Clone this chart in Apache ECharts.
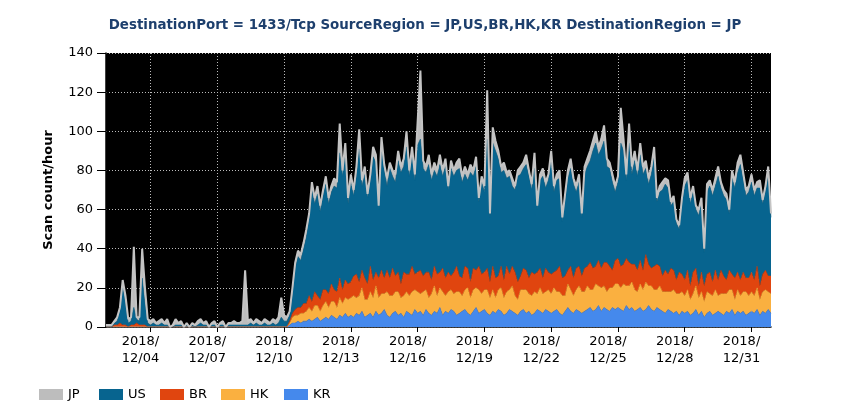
<!DOCTYPE html>
<html>
<head>
<meta charset="utf-8">
<script src="https://cdn.jsdelivr.net/npm/echarts@6/dist/echarts.min.js"></script>
<style>
html,body{margin:0;padding:0;background:#fff;}
#chart{width:850px;height:420px;}
</style>
</head>
<body>
<div id="chart"></div>
<script>
// 3-hour buckets from 2018/12/02 00:00 to 2018/12/31 21:00 (240 points)
const startDay = 2, endDay = 31, stepHours = 3;
const tickDays = ['12/04','12/07','12/10','12/13','12/16','12/19','12/22','12/25','12/28','12/31'];
const seriesNames = ['JP','US','BR','HK','KR'];

const kr = [
0,0,0,0,0,0,0,0,0,0,0,0,0,0,0,0,
0,0,0,0,0,0,0,0,0,0,0,0,0,0,0,0,
0,0,0,0,0,0,0,0,0,0,0,0,0,0,0,0,
0,0,0,0,0,0,0,0,0,0,0,0,0,0,0,0,0,0,
1,2,2,3,2,3,3,4,3,4,5,3,4,5,4,6,5,4,6,5,7,5,
6,5,7,6,8,5,6,7,5,8,6,7,9,6,5,7,8,6,7,5,8,7,6,9,
7,8,6,9,7,6,8,7,10,6,8,7,9,8,6,7,8,9,7,6,8,10,7,8,
9,7,6,8,7,9,8,6,7,9,8,7,6,8,9,7,8,6,7,9,8,7,9,8,
7,8,9,7,6,8,10,8,7,9,8,7,8,9,10,8,9,11,8,10,9,8,10,9,
10,9,8,11,9,10,8,9,10,8,9,11,9,8,10,9,8,7,9,8,7,8,6,8,
7,8,6,7,9,6,8,5,7,8,6,7,8,7,6,8,7,9,6,8,7,8,6,7,
8,7,9,6,8,7,9,7];

const hk = [
0,0,0,0,0,0,0,0,0,0,0,0,0,0,0,0,
0,0,0,0,0,0,0,0,0,0,0,0,0,0,0,0,
0,0,0,0,0,0,0,0,0,0,0,0,0,0,0,0,
0,0,0,0,0,0,0,0,0,0,0,0,0,0,0,0,0,0,
1,3,4,3,5,4,5,6,5,7,6,5,7,8,6,7,8,6,9,7,8,9,
9,11,8,10,12,9,8,11,10,13,9,10,8,12,11,9,10,12,8,11,10,9,12,10,
11,9,12,10,8,11,13,9,10,12,8,11,10,9,12,11,8,10,13,9,11,10,12,9,
10,12,9,11,8,10,12,9,11,10,13,9,8,11,10,12,9,10,11,8,12,10,9,11,
10,12,9,11,10,8,12,11,9,10,13,11,10,12,9,11,13,10,12,11,9,12,10,13,
12,11,14,10,12,13,11,9,12,11,14,10,12,11,9,12,10,11,9,10,12,9,11,10,
9,11,8,10,12,9,10,8,11,9,10,12,8,10,11,9,12,10,8,11,9,10,12,9,
10,9,11,8,10,12,9,10];

const br = [
0,0,0,1,1,2,1,1,0,1,1,2,1,1,1,0,
0,0,0,0,0,0,0,0,0,0,0,0,0,0,0,0,
0,0,0,0,0,0,0,0,0,0,0,0,0,0,0,0,
0,0,0,0,0,0,0,0,0,0,0,0,0,0,0,0,0,0,
1,2,3,4,3,5,4,6,5,7,5,6,8,6,7,9,6,8,10,7,9,8,
8,10,12,7,9,11,8,13,9,7,10,12,8,11,9,14,8,10,7,12,9,11,13,8,
10,12,8,9,13,7,10,11,8,12,9,10,7,11,13,8,9,12,10,8,11,9,12,10,
9,11,8,12,10,7,11,9,13,8,10,12,9,7,11,10,8,12,9,11,10,8,12,9,
10,8,11,13,9,10,7,12,9,11,10,8,12,10,14,11,9,13,10,12,15,11,9,12,
13,11,10,14,12,9,13,11,12,10,14,11,9,12,13,10,8,11,9,12,10,7,11,9,
8,10,7,11,9,6,10,8,9,11,7,10,8,12,9,7,10,8,11,9,8,10,7,9,
10,8,11,7,9,10,8,9];

const us = [
0,0,0,1,2,6,19,11,2,2,9,2,2,24,11,2,
1,2,1,1,2,1,1,0,0,1,1,1,0,1,0,1,
0,1,2,1,1,0,1,1,0,1,1,0,1,1,1,1,
1,1,1,1,2,1,2,1,1,2,1,1,2,1,2,5,3,3,
3,10,21,26,24,28,34,39,57,45,52,45,48,54,46,47,53,53,64,58,65,41,
51,41,50,68,43,53,44,44,63,56,35,62,55,43,56,47,48,57,57,54,65,50,56,48,
65,67,55,51,55,51,49,50,55,47,57,42,55,49,49,55,49,47,45,56,47,53,33,47,
41,66,33,63,65,60,48,56,45,50,41,42,54,52,51,54,52,42,57,32,45,52,41,47,
58,41,46,45,29,39,47,50,48,39,43,30,48,51,52,60,63,54,61,62,49,50,45,35,
39,63,58,40,61,46,53,48,54,49,44,41,48,56,32,38,44,44,44,32,35,29,22,36,
48,46,42,41,30,36,35,17,42,44,44,43,53,42,41,41,29,49,46,51,59,47,42,44,
46,43,40,50,36,40,51,30];

const jp = [
1,1,1,1,2,2,4,4,2,2,31,1,2,15,8,2,
2,2,1,2,2,1,3,0,1,3,1,2,0,1,0,1,
1,2,2,1,2,0,1,2,0,1,2,0,1,1,2,1,
1,2,28,2,2,1,2,2,1,2,2,1,2,2,3,10,3,2,
2,3,3,3,3,3,4,3,4,3,4,3,3,4,3,3,4,3,15,3,5,3,
4,3,5,10,3,4,2,3,5,4,2,6,3,4,3,3,4,5,3,4,8,3,5,3,
12,35,4,3,5,3,4,3,5,3,4,2,4,3,4,5,3,4,3,4,3,5,2,3,
3,25,2,8,5,4,3,4,3,3,4,2,3,4,3,5,3,3,5,2,3,4,3,3,
5,3,3,4,2,3,4,5,3,3,4,2,4,4,5,5,6,4,5,8,4,3,4,3,
3,18,6,3,10,4,5,3,6,4,4,3,4,5,2,3,4,3,4,2,3,2,2,3,
4,4,3,3,2,3,3,2,4,3,3,4,5,3,3,3,2,4,3,5,5,4,3,3,
4,3,3,4,2,3,5,2];

const categories = [];
for (let d = startDay; d <= endDay; d++) {
  for (let h = 0; h < 24; h += stepHours) {
    categories.push('2018/12/' + String(d).padStart(2,'0') + ' ' + String(h).padStart(2,'0') + ':00');
  }
}
const isTick = (idx) => {
  const c = categories[idx];
  return c.slice(11,13) === '00' && tickDays.indexOf(c.slice(5,10)) >= 0;
};

const colors = {JP:'#bdbdbd', US:'#07648f', BR:'#e0450f', HK:'#fab040', KR:'#4589ec'};
const dataMap = {JP:jp, US:us, BR:br, HK:hk, KR:kr};
const stackOrder = ['KR','HK','BR','US','JP'];
const legendLefts = [34, 94, 155, 216, 279];

const series = stackOrder.map(n => ({
  name: n,
  type: 'line',
  stack: 'total',
  data: dataMap[n],
  symbol: 'none',
  showSymbol: false,
  lineStyle: n === 'JP' ? {width: 2, color: '#c4c4c4'} : {width: 0.6, color: colors[n]},
  areaStyle: {color: colors[n], opacity: 1},
  itemStyle: {color: colors[n]},
  z: 2
}));

const legends = seriesNames.map((n, k) => ({
  data: [n],
  left: legendLefts[k],
  top: 383,
  icon: 'rect',
  itemWidth: 24,
  itemHeight: 11,
  textStyle: {fontFamily: 'DejaVu Sans', fontSize: 13, color: '#000'}
}));

const chart = echarts.init(document.getElementById('chart'), null, {renderer: 'canvas'});
chart.setOption({
  animation: false,
  backgroundColor: '#ffffff',
  title: {
    text: 'DestinationPort = 1433/Tcp SourceRegion = JP,US,BR,HK,KR DestinationRegion = JP',
    left: 'center',
    top: 14,
    textStyle: {fontFamily: 'DejaVu Sans', fontSize: 13.4, fontWeight: 'bold', color: '#1d3f6d'}
  },
  legend: legends,
  grid: {
    left: 106, right: 79, top: 53, bottom: 93,
    show: true, backgroundColor: '#000000', borderWidth: 0
  },
  xAxis: {
    type: 'category',
    data: categories,
    boundaryGap: false,
    axisLine: {show: true, lineStyle: {color: '#000', width: 1.5}},
    axisTick: {show: true, interval: (i) => isTick(i), length: 5, lineStyle: {color: '#000'}},
    axisLabel: {
      interval: (i) => isTick(i),
      formatter: (v) => v.slice(0,5) + '\n' + v.slice(5,10),
      fontFamily: 'DejaVu Sans', fontSize: 13, color: '#000', lineHeight: 17,
      margin: 6, padding: [0, 20, 0, 0]
    },
    splitLine: {show: true, interval: (i) => isTick(i), lineStyle: {color: '#bcbcbc', type: [1, 2], width: 1}}
  },
  yAxis: {
    type: 'value',
    min: 0, max: 140, interval: 20,
    name: 'Scan count/hour',
    nameLocation: 'middle',
    nameGap: 51,
    nameTextStyle: {fontFamily: 'DejaVu Sans', fontSize: 13, fontWeight: 'bold', color: '#000'},
    axisLine: {show: true, lineStyle: {color: '#000', width: 1.5}},
    axisTick: {show: true, length: 9, lineStyle: {color: '#000'}},
    axisLabel: {fontFamily: 'DejaVu Sans', fontSize: 13, color: '#000', margin: 13},
    splitLine: {show: true, lineStyle: {color: '#bcbcbc', type: [1, 2], width: 1}}
  },
  series: series
});
</script>
</body>
</html>
